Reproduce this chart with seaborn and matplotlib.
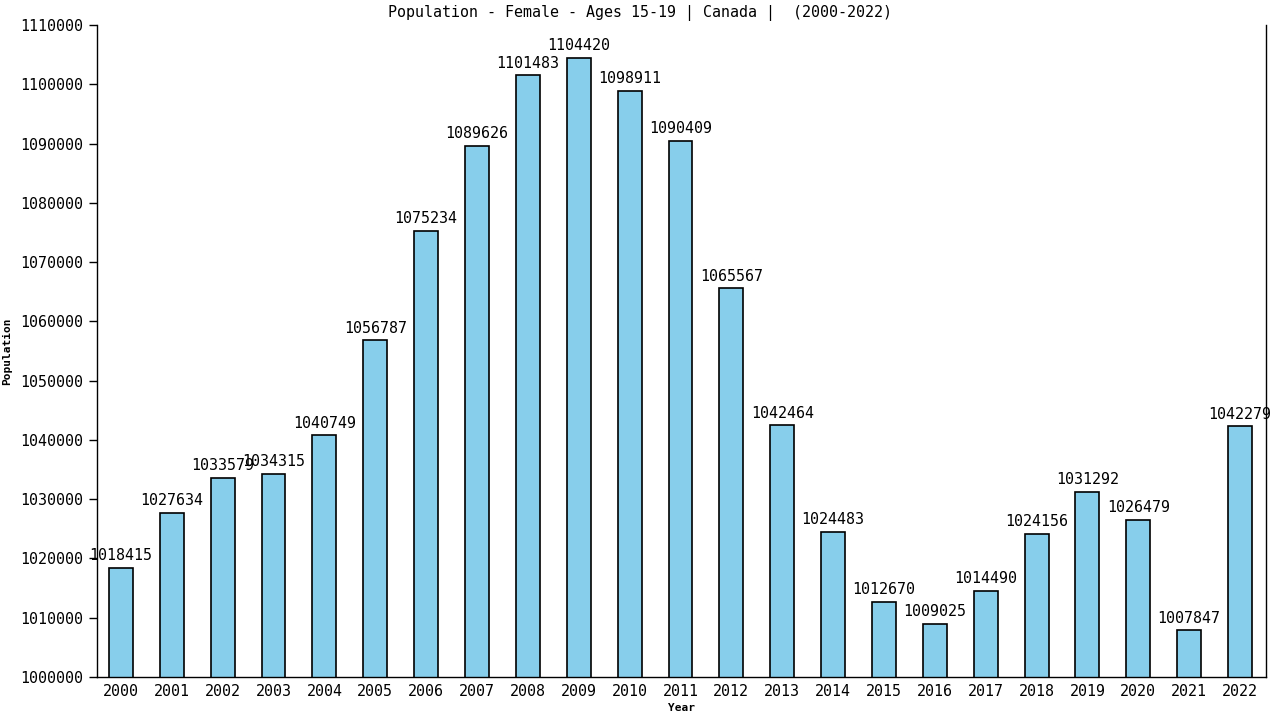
import matplotlib
matplotlib.use("Agg")
import matplotlib.pyplot as plt
import seaborn as sns
import pandas as pd

years = [str(y) for y in range(2000, 2023)]
population = [1018415, 1027634, 1033579, 1034315, 1040749, 1056787, 1075234, 1089626,
              1101483, 1104420, 1098911, 1090409, 1065567, 1042464, 1024483, 1012670,
              1009025, 1014490, 1024156, 1031292, 1026479, 1007847, 1042279]
yticks = list(range(1000000, 1110001, 10000))

sns.set_style("white")
plt.rcParams['font.family'] = ['DejaVu Sans Mono', 'DejaVu Sans']
plt.rcParams['text.color'] = 'black'
plt.rcParams['xtick.color'] = 'black'
plt.rcParams['ytick.color'] = 'black'
plt.rcParams['axes.labelcolor'] = 'black'

df = pd.DataFrame({"Year": years, "Population": population})

fig = plt.figure(figsize=(12.8, 7.2), dpi=100)
ax = fig.add_axes([97/1280, 1-677/720, (1266-97)/1280, (677-25)/720])
sns.barplot(data=df, x="Year", y="Population", color="#87CEEB", saturation=1,
            edgecolor="black", linewidth=1.2, width=0.47, ax=ax)

for i, v in enumerate(population):
    ax.text(i, v + 800, str(v), ha="center", va="bottom", fontsize=10.8, color="black")

ax.set_ylim(1000000, 1110000)
ax.set_xlim(-0.47, 22.51)
ax.set_yticks(yticks)
ax.set_yticklabels([str(t) for t in yticks], fontsize=10.8)
ax.tick_params(axis="x", labelsize=10.8, length=0, pad=5)
ax.tick_params(axis="y", length=6, width=1, direction="out", left=True, pad=4)
for s in ["left", "bottom", "right"]:
    ax.spines[s].set_visible(True)
    ax.spines[s].set_color("black")
    ax.spines[s].set_linewidth(1)
ax.spines["top"].set_visible(False)
ax.set_xlabel("Year", fontsize=8, fontweight="bold", labelpad=3)
ax.set_ylabel("Population", fontsize=8, fontweight="bold", labelpad=6)
fig.text(0.5, 1-13/720, "Population - Female - Ages 15-19 | Canada |  (2000-2022)",
         ha="center", va="center", fontsize=10.8, color="black")

fig.savefig("out.png", dpi=100)
